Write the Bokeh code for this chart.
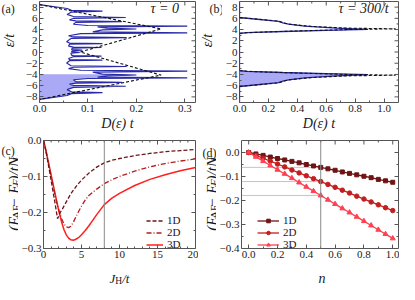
from math import pi
from bokeh.plotting import figure
from bokeh.layouts import column, row
from bokeh.models import (Label, Span, FixedTicker, Legend, LegendItem,
                          Range1d, CustomJSTickFormatter)
from bokeh.embed import file_html
from bokeh.resources import INLINE

SERIF = "Liberation Serif"
INK = "#1a1a1a"
FRAME = "#555555"
BLUE = "#2a2aa8"
LBLUE = "#a9a9f5"

# ---------------- (a) tau = 0 : density of states ----------------
eps_a = [9.0, 8.45, 7.75, 7.42, 7.27, 7.12, 6.7, 6.32, 6.15, 5.98, 5.72, 5.55, 5.42, 5.28,
         4.95, 4.72, 4.6, 4.48, 4.25, 4.1, 3.95, 3.6, 3.42, 3.27, 2.9, 2.68, 2.55, 2.42,
         1.85, 1.6, 1.5, 1.4, 1.05, 0.88, 0.8, 0.7, 0.45, 0.35, 0.25, 0.05, -0.08, -0.2,
         -0.55, -0.65, -0.75, -0.85, -1.15, -1.35, -1.45, -1.55, -1.95, -2.45, -2.58, -2.72,
         -2.95, -3.25, -3.42, -3.6, -3.95, -4.1, -4.25, -4.48, -4.6, -4.72, -4.95, -5.28,
         -5.42, -5.55, -5.72, -5.95, -6.1, -6.3, -6.7, -7.1, -7.25, -7.42, -7.75, -8.45, -9.0]
dos_a = [0.0, 0.0, 0.057, 0.066, 0.13, 0.066, 0.057, 0.07, 0.178, 0.07, 0.062, 0.075, 0.17, 0.075,
         0.07, 0.1, 0.305, 0.12, 0.14, 0.2, 0.13, 0.11, 0.305, 0.085, 0.06, 0.07, 0.18, 0.065,
         0.056, 0.062, 0.13, 0.062, 0.06, 0.07, 0.128, 0.068, 0.066, 0.088, 0.068, 0.066, 0.083, 0.065,
         0.066, 0.07, 0.128, 0.07, 0.06, 0.062, 0.13, 0.062, 0.056, 0.065, 0.18, 0.07,
         0.06, 0.085, 0.305, 0.11, 0.13, 0.2, 0.14, 0.12, 0.305, 0.1, 0.07, 0.075,
         0.17, 0.075, 0.062, 0.07, 0.178, 0.07, 0.057, 0.066, 0.13, 0.066, 0.057, 0.0, 0.0]
eps_a_dash = [8.45, 4.12, 0.0, -4.12, -8.45]
dos_a_dash = [0.0, 0.251, 0.084, 0.251, 0.0]
fermi_a = -3.8

# ---------------- (b) tau = 300/t ----------------
eps_b = [9.0, 6.15, 5.45, 5.2, 4.95, 4.6, 4.25, 4.05, 3.85, 3.65, 3.45, 3.3,
         -3.3, -3.45, -3.65, -3.85, -4.05, -4.25, -4.6, -4.95, -5.2, -5.45, -6.15, -9.0]
dos_b = [0.0, 0.0, 0.27, 0.3, 0.34, 0.45, 0.67, 0.89, 0.6, 0.3, 0.05, 0.0,
         0.0, 0.05, 0.3, 0.6, 0.89, 0.67, 0.45, 0.34, 0.3, 0.27, 0.0, 0.0]
eps_b_dash = [6.15, 5.5, 5.0, 4.55, 4.25, 4.13, 4.0, 3.75, 3.5, 3.35]
dos_b_dash = [0.0, 0.27, 0.33, 0.5, 0.75, 1.08, 0.75, 0.4, 0.1, 0.0]
fermi_b = -3.3

# ---------------- (c) energy difference vs J_H ----------------
jh_1d = [0, 0.3, 0.6, 0.9, 1.2, 1.5, 1.7, 1.85, 2.0, 2.2, 2.5, 2.8, 3.2, 3.6, 4.0, 4.5, 5.0,
         6.0, 7.0, 8.0, 9.0, 10, 12, 14, 16, 18, 20]
e_1d = [0, -0.028, -0.062, -0.098, -0.135, -0.172, -0.198, -0.217, -0.21, -0.2, -0.19, -0.178,
        -0.163, -0.148, -0.136, -0.122, -0.11, -0.09, -0.074, -0.062, -0.055, -0.05, -0.042,
        -0.036, -0.031, -0.028, -0.025]
jh_2d = [0, 0.3, 0.6, 0.9, 1.2, 1.5, 1.8, 2.1, 2.4, 2.7, 3.0, 3.3, 3.6, 3.9, 4.2, 4.6, 5.0,
         5.5, 6, 7, 8, 9, 10, 12, 14, 16, 18, 20]
e_2d = [0, -0.027, -0.058, -0.09, -0.12, -0.15, -0.177, -0.2, -0.218, -0.232, -0.24, -0.242,
        -0.238, -0.228, -0.215, -0.198, -0.182, -0.165, -0.152, -0.135, -0.12, -0.109, -0.1,
        -0.085, -0.073, -0.064, -0.057, -0.051]
jh_3d = [0, 0.3, 0.6, 0.9, 1.2, 1.5, 1.8, 2.1, 2.4, 2.7, 3.0, 3.3, 3.6, 3.9, 4.2, 4.6, 5.0,
         5.5, 6.0, 6.5, 7, 8, 9, 10, 12, 14, 16, 18, 20]
e_3d = [0, -0.025, -0.055, -0.085, -0.115, -0.145, -0.175, -0.203, -0.228, -0.248, -0.262,
        -0.271, -0.276, -0.277, -0.275, -0.27, -0.262, -0.25, -0.236, -0.221, -0.206, -0.178,
        -0.16, -0.147, -0.125, -0.108, -0.095, -0.084, -0.075]
jh_mark = 8

# ---------------- (d) energy difference vs n ----------------
n_vals = [0.0, 0.05, 0.1, 0.15, 0.2, 0.25, 0.3, 0.35, 0.4, 0.45, 0.5, 0.55, 0.6, 0.65, 0.7,
          0.75, 0.8, 0.85, 0.9, 0.95, 1.0]
d_1d = [0, -0.006, -0.012, -0.019, -0.025, -0.031, -0.037, -0.043, -0.050, -0.056, -0.062,
        -0.068, -0.074, -0.081, -0.087, -0.093, -0.099, -0.105, -0.112, -0.118, -0.124]
d_2d = [0, -0.012, -0.024, -0.036, -0.048, -0.060, -0.073, -0.085, -0.097, -0.109, -0.121,
        -0.133, -0.145, -0.157, -0.169, -0.182, -0.194, -0.206, -0.218, -0.230, -0.242]
d_3d = [0, -0.018, -0.036, -0.054, -0.072, -0.089, -0.107, -0.125, -0.143, -0.161, -0.179,
        -0.197, -0.215, -0.233, -0.250, -0.268, -0.286, -0.304, -0.322, -0.340, -0.358]
n_mark = 0.5

# ---------------- ticks ----------------
a_xticks = [0.0, 0.1, 0.2, 0.3]
a_xlabels = ["0.0", "0.1", "0.2", "0.3"]
a_xminor = [0.05, 0.15, 0.25]
eps_ticks = [-8, -6, -4, -2, 0, 2, 4, 6, 8]
eps_labels = ["\u22128", "\u22126", "\u22124", "\u22122", "0", "2", "4", "6", "8"]
eps_minor = [-7, -5, -3, -1, 1, 3, 5, 7]
b_xticks = [0.0, 0.2, 0.4, 0.6, 0.8, 1.0]
b_xlabels = ["0.0", "0.2", "0.4", "0.6", "0.8", "1.0"]
b_xminor = [0.1, 0.3, 0.5, 0.7, 0.9]
c_xticks = [0, 5, 10, 15, 20]
c_xlabels = ["0", "5", "10", "15", "20"]
c_xminor = [1, 2, 3, 4, 6, 7, 8, 9, 11, 12, 13, 14, 16, 17, 18, 19]
c_yticks = [0.0, -0.1, -0.2, -0.3]
c_ylabels = ["0.0", "\u22120.1", "\u22120.2", "\u22120.3"]
c_yminor = [-0.05, -0.15, -0.25]
d_xticks = [0.0, 0.2, 0.4, 0.6, 0.8, 1.0]
d_xlabels = ["0.0", "0.2", "0.4", "0.6", "0.8", "1.0"]
d_xminor = [0.1, 0.3, 0.5, 0.7, 0.9]
d_yticks = [0.0, -0.1, -0.2, -0.3, -0.4]
d_ylabels = ["0.0", "\u22120.1", "\u22120.2", "\u22120.3", "\u22120.4"]
d_yminor = [-0.05, -0.15, -0.25, -0.35]


def fmt(tv, tl):
    return CustomJSTickFormatter(args=dict(tv=tv, tl=tl), code="""
        let best = 0, bd = Infinity;
        for (let i = 0; i < tv.length; i++) {
            const d = Math.abs(tv[i] - tick);
            if (d < bd) { bd = d; best = i; }
        }
        return tl[best];
    """)


def make_fig(w, h, xr, yr, bl, br, bt, bb):
    p = figure(width=w, height=h, x_range=Range1d(*xr), y_range=Range1d(*yr),
               output_backend="svg", toolbar_location=None,
               min_border_left=bl, min_border_right=br, min_border_top=bt, min_border_bottom=bb)
    p.grid.visible = False
    p.outline_line_color = FRAME
    p.outline_line_width = 1
    return p


def label_fig(w, h):
    f = figure(width=w, height=h, x_range=Range1d(0, w), y_range=Range1d(0, h),
               output_backend="svg", toolbar_location=None, min_border=0,
               x_axis_type=None, y_axis_type=None)
    f.outline_line_color = None
    f.grid.visible = False
    return f


def style_axis(ax, ticks, minor, labels):
    ax.ticker = FixedTicker(ticks=ticks, minor_ticks=minor)
    ax.formatter = fmt(ticks, labels)
    ax.axis_line_color = None
    ax.major_tick_in = 4
    ax.major_tick_out = 0
    ax.minor_tick_in = 2
    ax.minor_tick_out = 0
    ax.major_tick_line_color = FRAME
    ax.minor_tick_line_color = FRAME
    ax.major_label_text_font = SERIF
    ax.major_label_text_font_size = "11px"
    ax.major_label_text_color = INK
    ax.major_label_standoff = 2
    ax.axis_label = None


def setup_axes(p, xt, xl, xm, yt, yl, ym):
    xax, yax = p.below[0], p.left[0]
    style_axis(xax, xt, xm, xl)
    style_axis(yax, yt, ym, yl)
    # inward ticks on the top and right edges of the frame
    xe, ye = p.x_range.end, p.y_range.end
    kw = dict(length_units="screen", line_color=FRAME, line_width=1)
    p.ray(x=xt, y=[ye] * len(xt), length=4, angle=-pi / 2, **kw)
    p.ray(x=xm, y=[ye] * len(xm), length=2, angle=-pi / 2, **kw)
    p.ray(x=[xe] * len(yt), y=yt, length=4, angle=pi, **kw)
    p.ray(x=[xe] * len(ym), y=ym, length=2, angle=pi, **kw)
    return xax, yax


def lab(p, text, x, y, dx=0, dy=0, size=13, style="normal", align="left",
        baseline="alphabetic", angle=0.0):
    p.add_layout(Label(x=x, y=y, x_offset=dx, y_offset=dy,
                       text=text, text_font=SERIF, text_font_size=f"{size}px",
                       text_font_style=style, text_align=align, text_baseline=baseline,
                       angle=angle, text_color=INK))


def ylabel_energy(f, xb, yc):
    M, S = 15, 11
    pieces = [
        ("(E", M, "italic", False, 0.944 * M),
        ("AF", S, "normal", True, 1.278 * S),
        (" \u2212 ", M, "normal", False, 1.064 * M),
        ("E", M, "italic", False, 0.611 * M),
        ("F", S, "italic", True, 0.611 * S),
        (")/tN", M, "italic", False, 1.556 * M),
        ("L", S, "italic", True, 0.556 * S),
    ]
    total = sum(pc[4] for pc in pieces)
    y = yc - total / 2
    for text, size, style, sub, adv in pieces:
        lab(f, text, xb + (2 if sub else 0), y, size=size, style=style, angle=pi / 2)
        y += adv


# ---------------- layout geometry ----------------
TOP_H, BOT_H, STRIP_H = 133, 129, 22

# ---------------- panel (a) ----------------
pa = make_fig(180, TOP_H, (0, 0.322), (-9, 9), 21, 3, 1, 31)
xa, _ = setup_axes(pa, a_xticks, a_xlabels, a_xminor, eps_ticks, eps_labels, eps_minor)
xa.axis_label = "D(\u03b5) t"
fa_x = [0.0] + [d for d, e in zip(dos_a, eps_a) if e <= fermi_a] + [0.0]
fa_y = [max(e for e in eps_a if e <= fermi_a)] + [e for e in eps_a if e <= fermi_a] + [eps_a[-1]]
pa.patch(fa_x, fa_y, fill_color=LBLUE, line_color=None)
pa.line(dos_a, eps_a, line_color=BLUE, line_width=1.2)
pa.line(dos_a_dash, eps_a_dash, line_color="#111111", line_width=1.1, line_dash="3 2")
lab(pa, "\u03c4 = 0", 0, 9, dx=111, dy=-7, size=14, style="italic", baseline="middle")

# ---------------- panel (b) ----------------
pb = make_fig(177, TOP_H, (0, 1.1), (-9, 9), 17, 1, 1, 31)
xb, _ = setup_axes(pb, b_xticks, b_xlabels, b_xminor, eps_ticks, eps_labels, eps_minor)
xb.axis_label = "D(\u03b5) t"
fb_x = [d for d, e in zip(dos_b, eps_b) if e <= fermi_b and e > -9]
fb_y = [e for e in eps_b if e <= fermi_b and e > -9]
pb.patch(fb_x, fb_y, fill_color=LBLUE, line_color=None)
pb.line(dos_b, eps_b, line_color=BLUE, line_width=1.3)
pb.line(dos_b_dash, eps_b_dash, line_color="#111111", line_width=1.1, line_dash="3 2")
pb.line(dos_b_dash, [-e for e in eps_b_dash], line_color="#111111", line_width=1.1,
        line_dash="3 2")
lab(pb, "\u03c4 = 300/t", 0, 9, dx=99, dy=-7, size=14, style="italic", baseline="middle")

for ax in (xa, xb):
    ax.axis_label_text_font = SERIF
    ax.axis_label_text_font_size = "14px"
    ax.axis_label_text_font_style = "italic"
    ax.axis_label_text_color = INK
    ax.axis_label_standoff = 1

# ---------------- panel (c) ----------------
pc = make_fig(180, BOT_H, (0, 20), (-0.3, 0.0), 22, 3, 7, 14)
setup_axes(pc, c_xticks, c_xlabels, c_xminor, c_yticks, c_ylabels, c_yminor)
pc.add_layout(Span(location=jh_mark, dimension="height", line_color="#8a8a8a", line_width=1))
r3 = pc.line(jh_3d, e_3d, line_color="#ff1f1f", line_width=1.5)
r2 = pc.line(jh_2d, e_2d, line_color="#b51d1d", line_width=1.3, line_dash="5 2 1 2")
r1 = pc.line(jh_1d, e_1d, line_color="#6e1616", line_width=1.3, line_dash="4 2")
leg_c = Legend(items=[LegendItem(label="1D", renderers=[r1]),
                      LegendItem(label="2D", renderers=[r2]),
                      LegendItem(label="3D", renderers=[r3])],
               location=(103, -2), orientation="vertical")
pc.add_layout(leg_c)

# ---------------- panel (d) ----------------
pd_ = make_fig(183, BOT_H, (-0.05, 1.04), (-0.4, 0.05), 23, 1, 7, 14)
setup_axes(pd_, d_xticks, d_xlabels, d_xminor, d_yticks, d_ylabels, d_yminor)
pd_.add_layout(Span(location=n_mark, dimension="height", line_color="#8a8a8a", line_width=1))
i_mark = n_vals.index(n_mark)
marks = [d_1d[i_mark], d_2d[i_mark], d_3d[i_mark]]
pd_.segment(x0=[pd_.x_range.start] * 3, y0=marks, x1=[n_mark] * 3, y1=marks,
            line_color="#8a8a8a", line_width=1, line_dash="1 1")
l1 = pd_.line(n_vals, d_1d, line_color="#6e1414", line_width=1.3)
m1 = pd_.scatter(n_vals, d_1d, marker="square", size=4, color="#6e1414")
l2 = pd_.line(n_vals, d_2d, line_color="#c41e1e", line_width=1.3)
m2 = pd_.scatter(n_vals, d_2d, marker="circle", size=4.5, color="#c41e1e")
l3 = pd_.line(n_vals, d_3d, line_color="#ff4050", line_width=1.3)
m3 = pd_.scatter(n_vals, d_3d, marker="triangle", size=5, color="#ff4050")
leg_d = Legend(items=[LegendItem(label="1D", renderers=[l1, m1]),
                      LegendItem(label="2D", renderers=[l2, m2]),
                      LegendItem(label="3D", renderers=[l3, m3])],
               location=(16, -2), orientation="vertical")
pd_.add_layout(leg_d)

for leg, gw in ((leg_c, 17), (leg_d, 22)):
    leg.label_text_font = SERIF
    leg.label_text_font_size = "11px"
    leg.label_text_color = INK
    leg.glyph_width = gw
    leg.glyph_height = 9
    leg.label_height = 9
    leg.label_standoff = 4
    leg.spacing = -3
    leg.padding = 0
    leg.margin = 0
    leg.background_fill_alpha = 0
    leg.border_line_alpha = 0

# ---------------- label strips (texts that sit outside the frames) ----------------
La = label_fig(18, TOP_H)
lab(La, "(a)", 1, TOP_H - 1, size=12, baseline="top")
lab(La, "\u03b5/t", 9, TOP_H - 51.5, size=14, style="italic", align="center",
    baseline="middle", angle=pi / 2)

Lb = label_fig(24, TOP_H)
lab(Lb, "(b)", 11, TOP_H - 1, size=12, baseline="top")
lab(Lb, "\u03b5/t", 9, TOP_H - 51.5, size=14, style="italic", align="center",
    baseline="middle", angle=pi / 2)

Lc = label_fig(18, BOT_H)
lab(Lc, "(c)", 1, BOT_H - 13, size=12, baseline="middle")
ylabel_energy(Lc, 13.4, 66)

Ld = label_fig(18, BOT_H)
lab(Ld, "(d)", 4, BOT_H - 15, size=12, baseline="middle")
ylabel_energy(Ld, 13.4, 66)

St = label_fig(399, STRIP_H)
lab(St, "J", 109, 6, size=13, style="italic")
lab(St, "H", 114.8, 3.5, size=9.5)
lab(St, "/t", 121.7, 6, size=13, style="italic")
lab(St, "n", 321.5, 6, size=14, style="italic", align="center")

layout = column(row(La, pa, Lb, pb), row(Lc, pc, Ld, pd_), St)
open("out.html", "w").write(file_html(layout, INLINE))
